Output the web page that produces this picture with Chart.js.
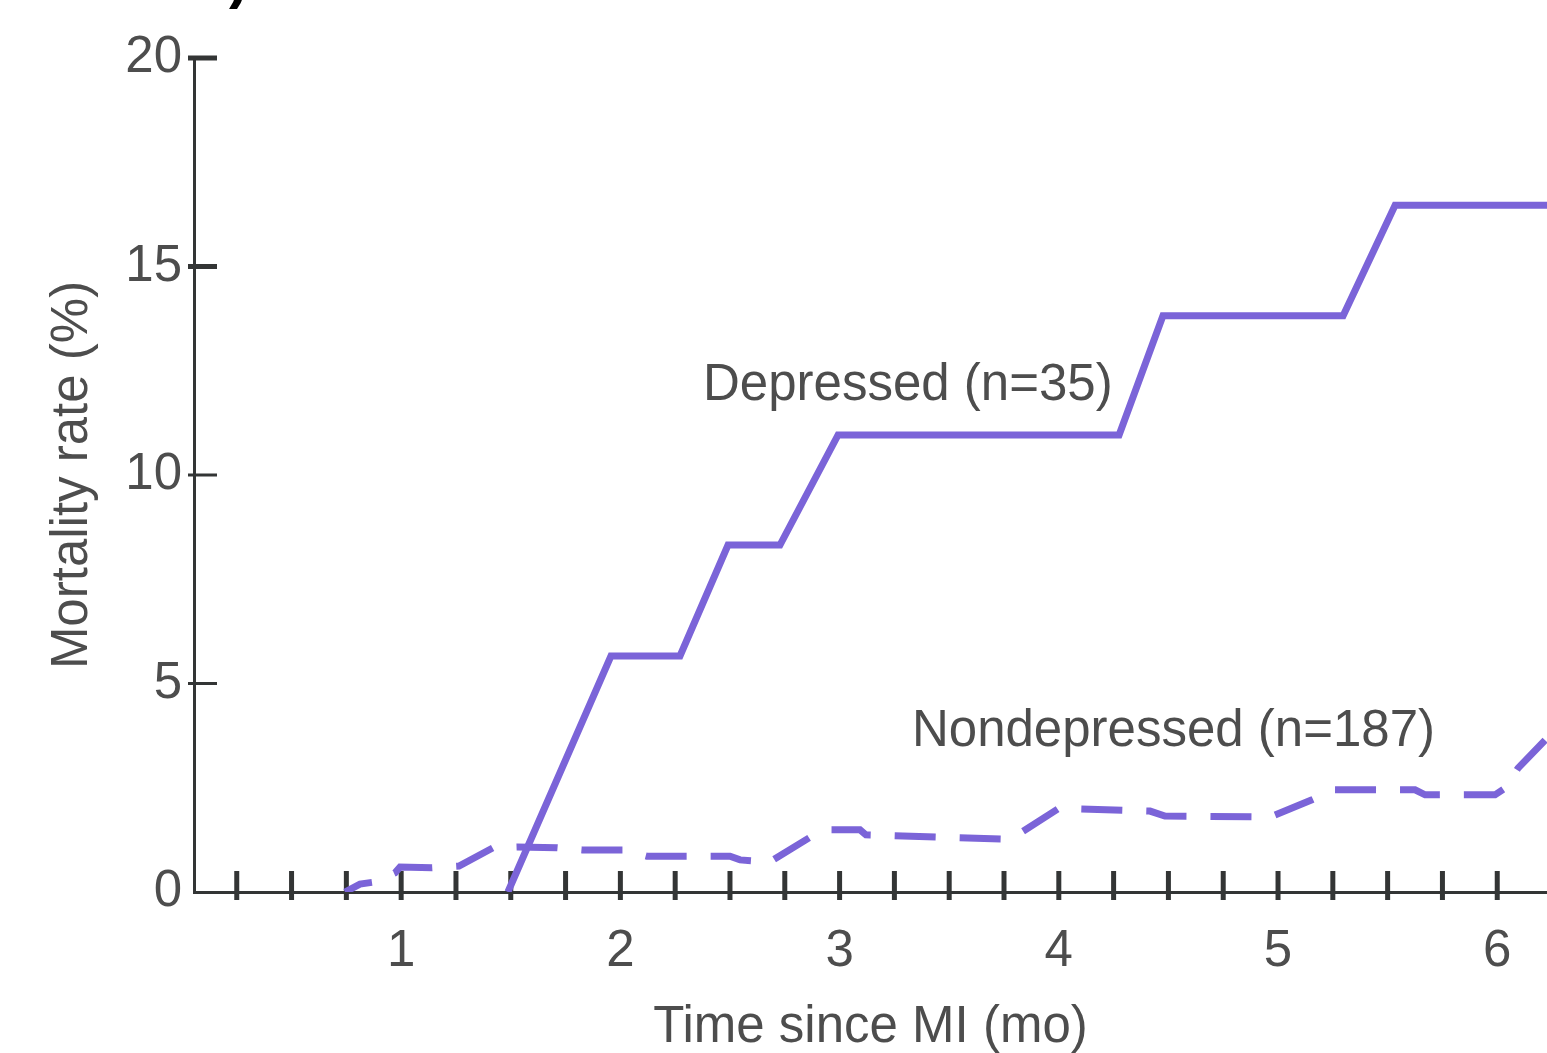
<!DOCTYPE html>
<html><head><meta charset="utf-8">
<script src="https://cdn.jsdelivr.net/npm/chart.js@4.4.1/dist/chart.umd.min.js"></script>
<style>html,body{margin:0;padding:0;background:#fff;overflow:hidden}canvas{display:block}</style>
</head><body>
<canvas id="c" width="1547" height="1053"></canvas>
<script>
// ---- data ----
const depressedX = [1.487, 1.957, 2.272, 2.491, 2.728, 2.993, 4.275, 4.475, 5.297, 5.534, 6.227];
const depressedY = [0, 5.66, 5.66, 8.32, 8.32, 10.96, 10.96, 13.82, 13.82, 16.47, 16.47];
const nondepressedX = [0.744, 0.812, 0.880, 0.972, 0.995, 1.141, 1.264, 1.419, 1.528, 1.711, 1.825, 2.012, 2.121, 2.500, 2.546, 2.682, 2.874, 2.956, 3.093, 3.120, 3.745, 3.823, 4.001, 4.416, 4.484, 4.964, 5.155, 5.26, 5.625, 5.671, 5.99, 6.036, 6.095, 6.227];
const nondepressedY = [0, 0.19, 0.24, 0.46, 0.60, 0.58, 0.62, 1.06, 1.08, 1.06, 1.01, 1.01, 0.86, 0.86, 0.77, 0.72, 1.34, 1.49, 1.49, 1.37, 1.27, 1.41, 2.01, 1.94, 1.82, 1.80, 2.21, 2.45, 2.45, 2.33, 2.33, 2.49, 2.97, 3.69];
const xTickLabels = [1, 2, 3, 4, 5, 6];
const xMinorTicks = [0.25, 0.5, 0.75, 1, 1.25, 1.5, 1.75, 2, 2.25, 2.5, 2.75, 3, 3.25, 3.5, 3.75, 4, 4.25, 4.5, 4.75, 5, 5.25, 5.5, 5.75, 6];
const yTickLabels = [0, 5, 10, 15, 20];
const seriesNames = ['Depressed (n=35)', 'Nondepressed (n=187)'];
const xTitle = 'Time since MI (mo)';
const yTitle = 'Mortality rate (%)';
const panelMark = ')';

// ---- style ----
const FONT = '"Liberation Sans", Arial, sans-serif';
const axisColor = '#333535';
const textColor = '#4d4d4d';
const lineColor = '#7b64d8';
const LW = 7;

const toPts = (xs, ys) => xs.map((x, i) => ({x, y: ys[i]}));

const tickPlugin = {
  id: 'tickMarks',
  beforeDatasetsDraw(chart) {
    const {ctx, scales: {x, y}, chartArea} = chart;
    ctx.save();
    ctx.strokeStyle = axisColor;
    ctx.lineCap = 'butt';
    ctx.lineWidth = 5;
    xMinorTicks.forEach(v => {
      const px = x.getPixelForValue(v);
      ctx.beginPath();
      ctx.moveTo(px, chartArea.bottom - 21);
      ctx.lineTo(px, chartArea.bottom + 8);
      ctx.stroke();
    });
    yTickLabels.forEach(v => {
      if (v === 0) return;
      const py = y.getPixelForValue(v);
      ctx.lineWidth = v >= 15 ? 5 : 3;
      ctx.beginPath();
      ctx.moveTo(chartArea.left - 6, py);
      ctx.lineTo(chartArea.left + 23, py);
      ctx.stroke();
    });
    ctx.restore();
  }
};

const labelAnchors = [{x: 2.377, y: 11.8}, {x: 3.33, y: 3.5}];
const labelPlugin = {
  id: 'seriesLabels',
  afterDatasetsDraw(chart) {
    const {ctx, scales: {x, y}} = chart;
    ctx.save();
    ctx.font = '51px ' + FONT;
    ctx.fillStyle = textColor;
    ctx.textAlign = 'left';
    ctx.textBaseline = 'alphabetic';
    seriesNames.forEach((t, i) => {
      ctx.fillText(t, x.getPixelForValue(labelAnchors[i].x), y.getPixelForValue(labelAnchors[i].y));
    });
    ctx.font = 'bold 58px ' + FONT;
    ctx.fillStyle = '#000';
    ctx.fillText(panelMark, 229, -3);
    ctx.restore();
  }
};

new Chart(document.getElementById('c'), {
  type: 'line',
  data: {
    datasets: [
      {
        label: seriesNames[0],
        data: toPts(depressedX, depressedY),
        borderColor: lineColor,
        borderWidth: LW,
        pointRadius: 0,
        tension: 0,
        fill: false
      },
      {
        label: seriesNames[1],
        data: toPts(nondepressedX, nondepressedY),
        borderColor: lineColor,
        borderWidth: LW,
        borderDash: [41, 24],
        borderDashOffset: 12,
        pointRadius: 0,
        tension: 0,
        fill: false
      }
    ]
  },
  options: {
    responsive: false,
    animation: false,
    devicePixelRatio: 1,
    layout: {padding: {top: 58, right: 0, bottom: 0, left: 0}},
    plugins: {legend: {display: false}, tooltip: {enabled: false}},
    scales: {
      x: {
        type: 'linear',
        min: 0.055,
        max: 6.227,
        afterBuildTicks: s => { s.ticks = xTickLabels.map(v => ({value: v})); },
        afterFit: s => { s.height = 161; },
        grid: {display: false, drawTicks: false},
        border: {display: true, color: axisColor, width: 3},
        ticks: {color: textColor, font: {family: FONT, size: 51}, padding: 29, maxRotation: 0, autoSkip: false,
                callback: v => String(v)},
        title: {display: true, text: xTitle, color: textColor, font: {family: FONT, size: 51, lineHeight: 1}, padding: {top: 0, bottom: 0}}
      },
      y: {
        type: 'linear',
        min: 0,
        max: 20,
        afterBuildTicks: s => { s.ticks = yTickLabels.map(v => ({value: v})); },
        afterFit: s => { s.width = 194; },
        grid: {display: false, drawTicks: false},
        border: {display: true, color: axisColor, width: 3},
        ticks: {color: textColor, font: {family: FONT, size: 51}, padding: 12, callback: v => String(v)},
        title: {display: true, text: yTitle, color: textColor, font: {family: FONT, size: 51, lineHeight: 1.2}, padding: {top: 42, bottom: 0}}
      }
    }
  },
  plugins: [tickPlugin, labelPlugin]
});
</script>
</body></html>
